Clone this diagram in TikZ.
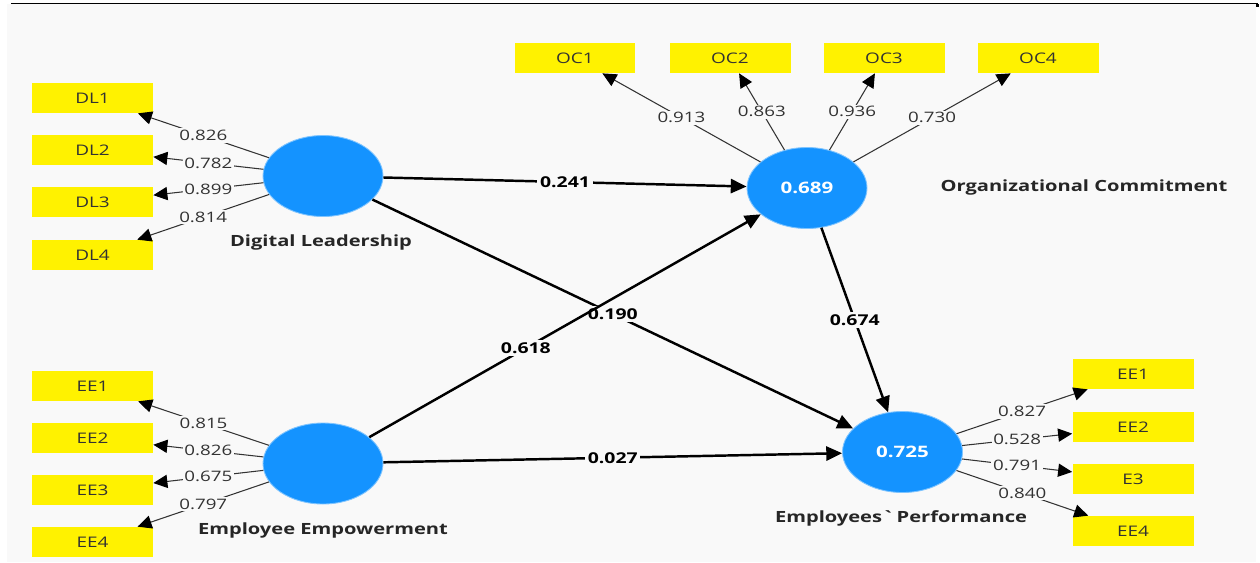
\documentclass[tikz,border=0pt]{standalone}
\usepackage{fontspec}
\setmainfont[FakeStretch=1.3]{Open Sans}
\usetikzlibrary{arrows.meta,shapes.geometric}
\definecolor{plsblue}{RGB}{20,147,255}
\definecolor{panel}{RGB}{249,249,249}
\definecolor{numgray}{RGB}{50,50,50}

\begin{document}
\begin{tikzpicture}[x=0.02cm, y=-0.02cm,
    ind/.style={fill=yellow, minimum width=2.42cm, minimum height=0.6cm, inner sep=0pt, text=numgray, font=\fontsize{8.3}{9}\selectfont},
    lv/.style={ellipse, fill=plsblue, draw=plsblue!55!white, line width=0.5pt, minimum width=2.4cm, minimum height=1.62cm, inner sep=0pt, text=white, font=\fontsize{9}{10}\selectfont\bfseries},
    lvname/.style={text=black!85, font=\fontsize{8.8}{10}\selectfont\bfseries},
    loading/.style={draw=black!80, line width=0.6pt, -{Triangle[length=8pt,width=7.5pt,color=black]}},
    loadval/.style={fill=panel, inner sep=1pt, text=numgray, font=\fontsize{8.2}{9}\selectfont},
    struct/.style={line width=1.4pt, -{Triangle[length=9pt,width=8pt]}},
    coef/.style={fill=panel, inner sep=1.5pt, font=\fontsize{8.5}{9}\selectfont\bfseries}]
    \useasboundingbox (0,0) rectangle (1260,562);

    % 背景
    \fill[panel] (7,4) rectangle (1256,562);
    \draw[line width=0.6pt] (11,3.5) -- (1258,3.5);
    \fill (1256,4) rectangle (1259,7);

    % 潜变量
    \node[lv] (dl) at (323,176) {};
    \node[lv] (ee) at (323,463.5) {};
    \node[lv] (oc) at (807,188) {0.689};
    \node[lv] (ep) at (902.5,452) {0.725};
    \node[lvname] (dlname) at (321,242) {Digital Leadership};
    \node[lvname] (eename) at (323,530) {Employee Empowerment};
    \node[lvname] (ocname) at (1084,187) {Organizational Commitment};
    \node[lvname] (epname) at (901,518) {Employees\textasciigrave\ Performance};

    % 指标
    \node[ind] (dl1) at (92.5,98) {DL1};
    \node[ind] (dl2) at (92.5,150) {DL2};
    \node[ind] (dl3) at (92.5,202) {DL3};
    \node[ind] (dl4) at (92.5,255) {DL4};
    \node[ind] (ee1) at (92.5,386) {EE1};
    \node[ind] (ee2) at (92.5,438) {EE2};
    \node[ind] (ee3) at (92.5,490) {EE3};
    \node[ind] (ee4) at (92.5,542) {EE4};
    \node[ind] (oc1) at (575,58) {OC1};
    \node[ind] (oc2) at (730,58) {OC2};
    \node[ind] (oc3) at (884,58) {OC3};
    \node[ind] (oc4) at (1038,58) {OC4};
    \node[ind] (ep1) at (1133,374) {EE1};
    \node[ind] (ep2) at (1133,427) {EE2};
    \node[ind] (ep3) at (1133,479) {E3};
    \node[ind] (ep4) at (1133,531) {EE4};

    % 载荷
    \draw[loading] (dl) -- node[loadval] {0.826} (dl1);
    \draw[loading] (dl) -- node[loadval] {0.782} (dl2);
    \draw[loading] (dl) -- node[loadval] {0.899} (dl3);
    \draw[loading] (dl) -- node[loadval] {0.814} (dl4);
    \draw[loading] (ee) -- node[loadval] {0.815} (ee1);
    \draw[loading] (ee) -- node[loadval] {0.826} (ee2);
    \draw[loading] (ee) -- node[loadval] {0.675} (ee3);
    \draw[loading] (ee) -- node[loadval] {0.797} (ee4);
    \draw[loading] (oc) -- node[loadval] {0.913} (oc1);
    \draw[loading] (oc) -- node[loadval] {0.863} (oc2);
    \draw[loading] (oc) -- node[loadval] {0.936} (oc3);
    \draw[loading] (oc) -- node[loadval] {0.730} (oc4);
    \draw[loading] (ep) -- node[loadval] {0.827} (ep1);
    \draw[loading] (ep) -- node[loadval] {0.528} (ep2);
    \draw[loading] (ep) -- node[loadval] {0.791} (ep3);
    \draw[loading] (ep) -- node[loadval] {0.840} (ep4);

    % 路径系数
    \draw[struct] (dl) -- node[coef] {0.241} (oc);
    \draw[struct] (dl) -- node[coef] {0.190} (ep);
    \draw[struct] (ee) -- node[coef, pos=0.4] {0.618} (oc);
    \draw[struct] (ee) -- node[coef] {0.027} (ep);
    \draw[struct] (oc) -- node[coef] {0.674} (ep);
\end{tikzpicture}
\end{document}
